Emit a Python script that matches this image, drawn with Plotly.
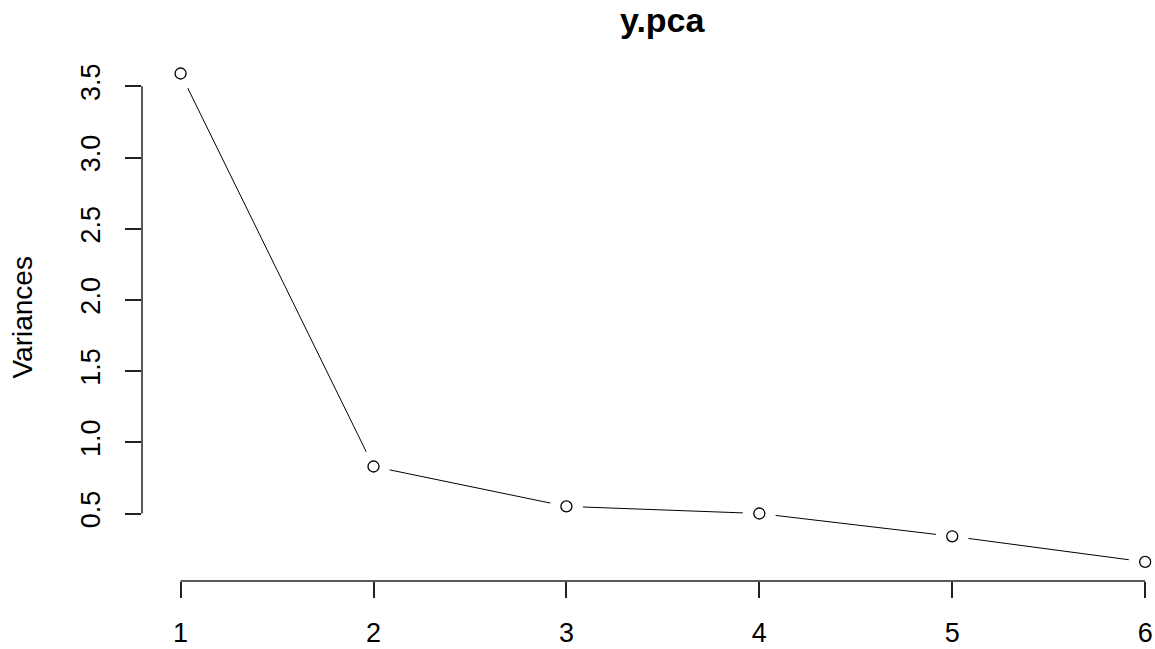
import plotly.graph_objects as go

components = [1, 2, 3, 4, 5, 6]
variances = [3.59, 0.83, 0.55, 0.50, 0.34, 0.16]
x_ticks = [1, 2, 3, 4, 5, 6]
y_ticks = [0.5, 1.0, 1.5, 2.0, 2.5, 3.0, 3.5]
y_tick_text = ["0.5", "1.0", "1.5", "2.0", "2.5", "3.0", "3.5"]
title_text = "y.pca"
y_label = "Variances"

FONT = "Liberation Sans, Arial, sans-serif"

fig = go.Figure()
fig.add_trace(go.Scatter(x=components, y=variances, mode="lines",
                         line=dict(color="black", width=1), hoverinfo="skip",
                         cliponaxis=False))
# white halo to emulate R type="b" line gaps
fig.add_trace(go.Scatter(x=components, y=variances, mode="markers",
                         marker=dict(symbol="circle", size=33, color="white",
                                     line=dict(width=0)), hoverinfo="skip",
                         cliponaxis=False))
fig.add_trace(go.Scatter(x=components, y=variances, mode="markers",
                         marker=dict(symbol="circle-open", size=11, color="black",
                                     line=dict(width=1.3, color="black")),
                         cliponaxis=False))

fig.update_layout(
    width=1155, height=649,
    margin=dict(l=142, r=0, t=54, b=68),
    plot_bgcolor="white", paper_bgcolor="white",
    showlegend=False,
    font=dict(family=FONT, color="black", size=28),
    xaxis=dict(range=[0.8, 6.051], tickvals=x_ticks, ticktext=[str(v) for v in x_ticks],
               ticks="outside", ticklen=16, tickwidth=1.5, tickcolor="#222",
               showline=False, showgrid=False, zeroline=False,
               tickfont=dict(size=27, family=FONT), ticklabelstandoff=12),
    yaxis=dict(range=[0.026, 3.727], tickvals=y_ticks, ticktext=y_tick_text,
               ticks="outside", ticklen=16, tickwidth=1.5, tickcolor="#222",
               showline=False, showgrid=False, zeroline=False, tickangle=-90,
               tickfont=dict(size=27, family=FONT), ticklabelstandoff=14),
    shapes=[
        dict(type="line", xref="x", yref="paper", x0=min(x_ticks), x1=max(x_ticks),
             y0=0, y1=0, line=dict(color="#222", width=1.5)),
        dict(type="line", xref="paper", yref="y", x0=0, x1=0,
             y0=min(y_ticks), y1=max(y_ticks), line=dict(color="#222", width=1.5)),
    ],
    annotations=[
        dict(text="<b>" + title_text + "</b>", xref="paper", yref="paper",
             x=(663 - 142) / 1013, y=1 + (54 - 20) / 527, xanchor="center", yanchor="middle",
             showarrow=False, font=dict(size=34, family=FONT, color="black")),
        dict(text=y_label, xref="paper", yref="paper",
             x=(22 - 142) / 1013, y=0.5, xanchor="center", yanchor="middle",
             textangle=-90, showarrow=False, font=dict(size=28, family=FONT, color="black")),
    ],
)

fig.write_html("out.html", config={"displayModeBar": False},
               post_script="document.body.style.margin='0';document.body.style.overflow='hidden';")
